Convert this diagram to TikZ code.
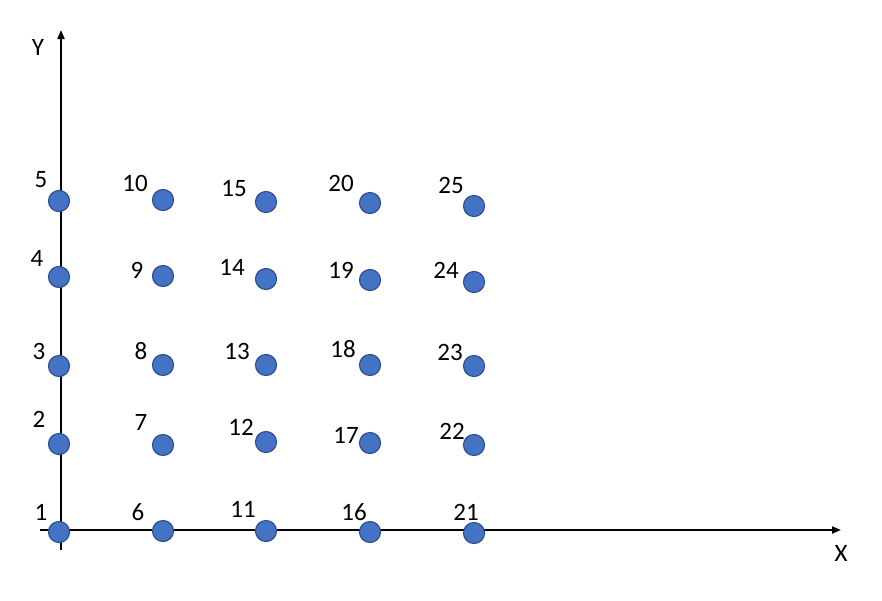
\documentclass[tikz,border=0pt]{standalone}
\usepackage{fontspec}
\setmainfont{Carlito}
\usetikzlibrary{arrows.meta}
\definecolor{dotfill}{HTML}{4472C4}
\definecolor{dotline}{HTML}{2F528F}
\begin{document}
\begin{tikzpicture}[x=1pt,y=-1pt,
  dot/.style={circle,fill=dotfill,draw=dotline,line width=1.2pt,minimum size=21pt,inner sep=0pt},
  lab/.style={font=\fontsize{25}{29}\selectfont,inner sep=0pt},
  axis/.style={line width=2pt,-{Triangle[length=9pt,width=7pt]}}]
\useasboundingbox (0,0) rectangle (882,600);
\coordinate (yb) at (61,550);
\coordinate (yt) at (61,30);
\coordinate (xl) at (40,530);
\coordinate (xr) at (841,530);
\draw[axis] (yb) -- (yt);
\draw[axis] (xl) -- (xr);
\node[lab] (ylab) at (38,47) {Y};
\node[lab] (xlab) at (841,553) {X};
\foreach \n/\x/\y/\lx/\ly in {
 1/59/532/41/512, 2/59/444/39/419, 3/59/366/39/351, 4/59/277/37/258, 5/59/201/41/180,
 6/163/531/138/512, 7/163/445/141/422, 8/163/365/141/351, 9/163/276/137/270, 10/163/200/135/183,
 11/266/531/243/509, 12/266/442/241/427, 13/266/365/237/351, 14/266/279/232/267, 15/266/202/234/189,
 16/370/532/354/512, 17/370/443/346/435, 18/370/365/343/349, 19/370/280/341/270, 20/370/203/341/183,
 21/474/533/466/512, 22/474/445/452/431, 23/474/366/450/352, 24/474/282/446/270, 25/474/206/451/185}{
  \node[dot] (p\n) at (\x,\y) {};
  \node[lab] (l\n) at (\lx,\ly) {\n};
}
\end{tikzpicture}
\end{document}
